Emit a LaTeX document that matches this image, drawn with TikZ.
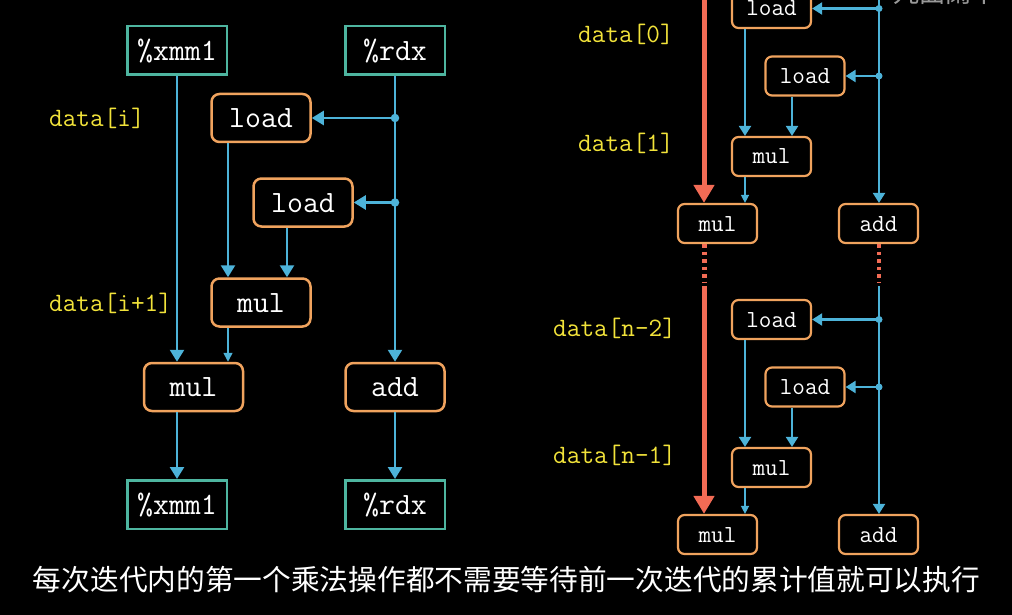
\documentclass[tikz,border=0pt]{standalone}
\usepackage{fontspec}
\newfontfamily\cjk{Noto Sans CJK SC}
\usetikzlibrary{arrows.meta}
\definecolor{lblue}{HTML}{4DB3D9}
\definecolor{orng}{HTML}{F0A35E}
\definecolor{tealc}{HTML}{4EB5A0}
\definecolor{ylw}{HTML}{F2E33A}
\definecolor{redc}{HTML}{F26B55}
\begin{document}
\begin{tikzpicture}[x=1pt,y=-1pt,
  reg/.style={draw=tealc, line width=2.5pt, text=white, font=\ttfamily\fontsize{31}{31}\selectfont,
    minimum width=99.5pt, minimum height=48.5pt, inner sep=0pt, text height=20pt, text depth=0pt},
  opL/.style={draw=orng, line width=2.5pt, rounded corners=8pt, text=white, font=\ttfamily\fontsize{31}{31}\selectfont,
    minimum width=99pt, minimum height=48pt, inner sep=0pt, text height=19pt, text depth=0pt},
  opR/.style={draw=orng, line width=2.2pt, rounded corners=6.5pt, text=white, font=\ttfamily\fontsize{24.5}{24.5}\selectfont,
    minimum width=79pt, minimum height=39pt, inner sep=0pt, text height=15pt, text depth=0pt},
  lab/.style={text=ylw, font=\ttfamily\fontsize{26.5}{26.5}\selectfont, anchor=west, inner sep=0pt},
  wire/.style={draw=lblue, line width=2.5pt},
  arr/.style={wire, -{Triangle[width=14pt,length=12pt]}},
  sarr/.style={draw=lblue, line width=1.6pt, -{Triangle[width=9pt,length=9pt]}},
  wireR/.style={draw=lblue, line width=2.2pt},
  arrR/.style={wireR, -{Triangle[width=12pt,length=10pt]}},
  sarrR/.style={draw=lblue, line width=1.4pt, -{Triangle[width=8pt,length=8pt]}},
  dotL/.style={circle, fill=lblue, inner sep=0pt, minimum size=8.5pt},
  dotR/.style={circle, fill=lblue, inner sep=0pt, minimum size=7pt},
  redarr/.style={draw=redc, line width=5pt, -{Triangle[width=20pt,length=18pt]}},
  redline/.style={draw=redc, line width=5pt},
  reddot/.style={draw=redc, line width=5pt, dash pattern=on 3.5pt off 4pt},
  reddotS/.style={draw=redc, line width=4pt, dash pattern=on 3.5pt off 4pt}
]
\useasboundingbox (0,0) rectangle (1012,615);
\fill[black] (0,0) rectangle (1012,615);
\clip (0,0) rectangle (1012,615);

% ---------------- left diagram ----------------
\node[reg] (xmmT) at (177,50.5) {\%xmm1};
\node[reg] (rdxT) at (395,50.5) {\%rdx};
\node[opL] (load1) at (261,118) {load};
\node[opL] (load2) at (303,202.5) {load};
\node[opL] (mulS) at (261,302.5) {mul};
\node[opL] (mulL) at (193.5,387) {mul};
\node[opL] (addL) at (395,387) {add};
\node[reg] (xmmB) at (177,504.5) {\%xmm1};
\node[reg] (rdxB) at (395,504.5) {\%rdx};
\node[lab] (li) at (49,118) {data[i]};
\node[lab] (li1) at (49,303) {data[i+1]};

\draw[arr] (xmmT.south) -- (xmmT.south |- mulL.north);
\draw[arr] (rdxT.south) -- (addL.north);
\node[dotL] (d1) at (rdxT.south |- load1.east) {};
\node[dotL] (d2) at (rdxT.south |- load2.east) {};
\draw[arr] (d1.center) -- (load1.east);
\draw[arr] (d2.center) -- (load2.east);
\draw[arr] ([xshift=-33pt]load1.south) -- ([xshift=-33pt]load1.south |- mulS.north);
\draw[arr] ([xshift=-16pt]load2.south) -- ([xshift=-16pt]load2.south |- mulS.north);
\draw[sarr] ([xshift=-33pt]mulS.south) -- ([xshift=-33pt]mulS.south |- mulL.north);
\draw[arr] (xmmB.north |- mulL.south) -- (xmmB.north);
\draw[arr] (addL.south) -- (rdxB.north);

% ---------------- right diagram ----------------
\node[opR] (loadA) at (771.5,8.5) {load};
\node[opR] (loadB) at (805,76) {load};
\node[opR] (mulA) at (771.5,156.5) {mul};
\node[opR] (mulB) at (717.5,223.5) {mul};
\node[opR] (addA) at (878.5,223.5) {add};
\node[opR] (loadC) at (771.5,319.5) {load};
\node[opR] (loadD) at (805,387) {load};
\node[opR] (mulC) at (771.5,467.5) {mul};
\node[opR] (mulD) at (717.5,534.5) {mul};
\node[opR] (addB) at (878.5,534.5) {add};

\node[lab] (l0) at (578,34) {data[0]};
\node[lab] (l1) at (578,143.5) {data[1]};
\node[lab] (ln2) at (553,328) {data[n-2]};
\node[lab] (ln1) at (553,455) {data[n-1]};

\coordinate (rt) at (704,-8);
\coordinate (bt) at (879,-8);
\coordinate (rg) at (704,283);
\coordinate (rg2) at (704,286);
\coordinate (bg) at (879,283);
\coordinate (bg2) at (879,286);

% top group
\draw[redarr] (rt) -- (rt |- mulB.north);
\draw[arrR] (bt) -- (bt |- addA.north);
\node[dotR] (d3) at (bt |- loadA.east) {};
\node[dotR] (d4) at (bt |- loadB.east) {};
\draw[arrR] (d3.center) -- (loadA.east);
\draw[arrR] (d4.center) -- (loadB.east);
\draw[arrR] ([xshift=-26.5pt]loadA.south) -- ([xshift=-26.5pt]loadA.south |- mulA.north);
\draw[arrR] ([xshift=-13pt]loadB.south) -- ([xshift=-13pt]loadB.south |- mulA.north);
\draw[sarrR] ([xshift=-26.5pt]mulA.south) -- ([xshift=-26.5pt]mulA.south |- mulB.north);

% gaps
\draw[reddot] (rt |- mulB.south) -- (rg);
\draw[reddotS] (bt |- addA.south) -- (bg);

% bottom group
\draw[redarr] (rg2) -- (rg2 |- mulD.north);
\draw[arrR] (bg2) -- (bg2 |- addB.north);
\node[dotR] (d5) at (bt |- loadC.east) {};
\node[dotR] (d6) at (bt |- loadD.east) {};
\draw[arrR] (d5.center) -- (loadC.east);
\draw[arrR] (d6.center) -- (loadD.east);
\draw[arrR] ([xshift=-26.5pt]loadC.south) -- ([xshift=-26.5pt]loadC.south |- mulC.north);
\draw[arrR] ([xshift=-13pt]loadD.south) -- ([xshift=-13pt]loadD.south |- mulC.north);
\draw[sarrR] ([xshift=-26.5pt]mulC.south) -- ([xshift=-26.5pt]mulC.south |- mulD.north);

% watermark (cut off at top)
\node[text=gray!80, font=\cjk\fontsize{26}{26}\selectfont, anchor=west, inner sep=0pt] (wm) at (893,-7) {九曲阑干};

% caption
\node[text=white, font=\cjk\fontsize{28.7}{28.7}\selectfont, inner sep=0pt] (cap) at (506.5,580) {每次迭代内的第一个乘法操作都不需要等待前一次迭代的累计值就可以执行};
\end{tikzpicture}
\end{document}
